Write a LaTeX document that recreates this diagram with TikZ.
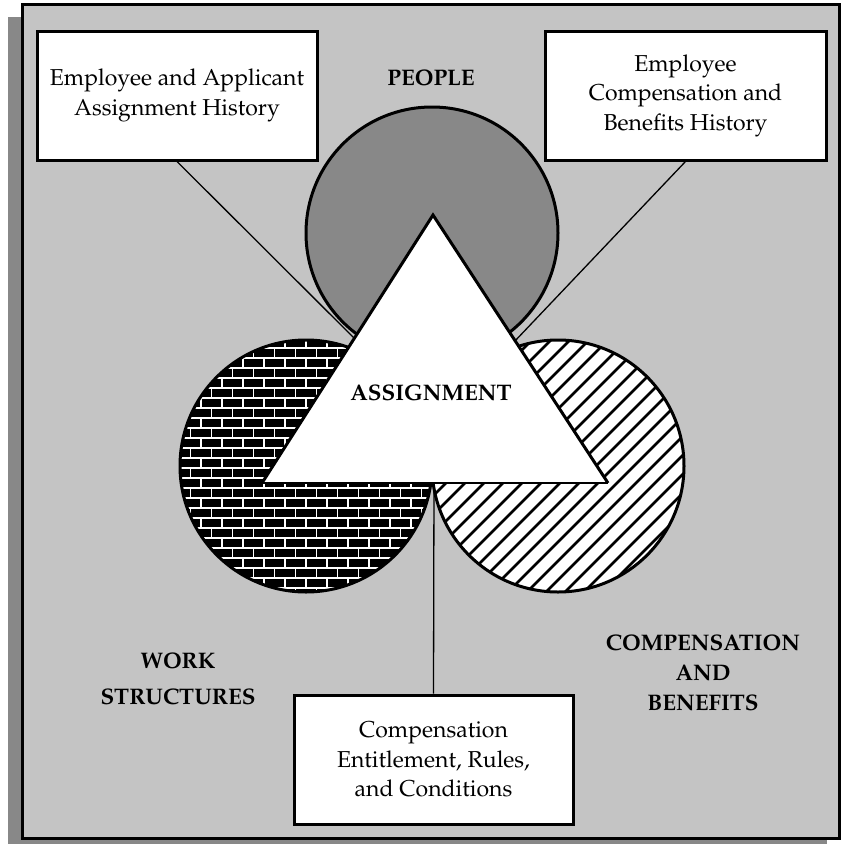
\documentclass[tikz,border=0pt]{standalone}
\usepackage[T1]{fontenc}
\usepackage{mathpazo}
\definecolor{bggray}{RGB}{196,196,196}
\definecolor{dkgray}{RGB}{136,136,136}
\tikzset{
  textbox/.style={draw=black, fill=white, line width=3pt, align=center, inner sep=0pt,
    font=\fontsize{23}{29.5}\selectfont},
  biglabel/.style={align=center, font=\bfseries\fontsize{22.5}{30}\selectfont},
  connector/.style={line width=1.3pt, black},
  ring/.style={line width=3pt, black},
  mortar/.style={white, line width=1.4pt},
  stripe/.style={black, line width=2.6pt}
}
\begin{document}
\begin{tikzpicture}[x=1pt,y=-1pt]
\useasboundingbox (0,0) rectangle (841,844);
% shadow and frame
\fill[dkgray] (8,17) rectangle (827,844);
\draw[fill=bggray, line width=3pt] (22,4) rectangle (839,838);

% people circle
\draw[ring, fill=dkgray] (432,233) circle (126);

% brick circle
\begin{scope}
\clip (306,466) circle (126);
\fill[black] (178,338) rectangle (434,594);
\foreach \r in {0,...,26} \draw[mortar] (178,338+10*\r) -- ++(256,0);
\foreach \r in {0,2,...,26} {\foreach \c in {0,...,12} \draw[mortar] (180+21*\c,338+10*\r) -- ++(0,10);}
\foreach \r in {1,3,...,25} {\foreach \c in {0,...,12} \draw[mortar] (190.5+21*\c,338+10*\r) -- ++(0,10);}
\end{scope}
\draw[ring] (306,466) circle (126);

% stripe circle
\begin{scope}
\clip (558,466) circle (126);
\fill[white] (430,338) rectangle (686,594);
\foreach \k in {-16,...,16} \draw[stripe] (558+19*\k-220,466+220) -- ++(440,-440);
\end{scope}
\draw[ring] (558,466) circle (126);

% boxes
\node[textbox, minimum width=280pt, minimum height=129pt] (hist) at (177,95.5)
  {Employee and Applicant\\Assignment History};
\node[textbox, minimum width=281pt, minimum height=129pt] (comp) at (685.5,95.5)
  {Employee\\Compensation and\\Benefits History};
\node[textbox, minimum width=279pt, minimum height=129pt] (rules) at (433.5,759.5)
  {Compensation\\Entitlement, Rules,\\and Conditions};

% connectors
\coordinate (lend) at (358,342);
\coordinate (rend) at (514,342);
\coordinate (bend) at (434,480);
\draw[connector] (hist.south) -- (lend);
\draw[connector] (comp.south) -- (rend);
\draw[connector] (bend) -- (rules.north);

% triangle
\coordinate (apex) at (433,215);
\coordinate (bl) at (262,483);
\coordinate (br) at (608,483);
\fill[white] (apex) -- (br) -- (bl) -- cycle;
\draw[line width=1.2pt] (bl) -- (br);
\draw[line width=3pt, line join=miter] (bl) -- (apex) -- (br);

% labels
\node[biglabel] (people) at (431,78) {PEOPLE};
\node[biglabel] (assign) at (431,393) {ASSIGNMENT};
\node[biglabel, font=\bfseries\fontsize{22.5}{36}\selectfont] (work) at (178,679) {WORK\\STRUCTURES};
\node[biglabel] (cb) at (703,673) {COMPENSATION\\AND\\BENEFITS};
\end{tikzpicture}
\end{document}
